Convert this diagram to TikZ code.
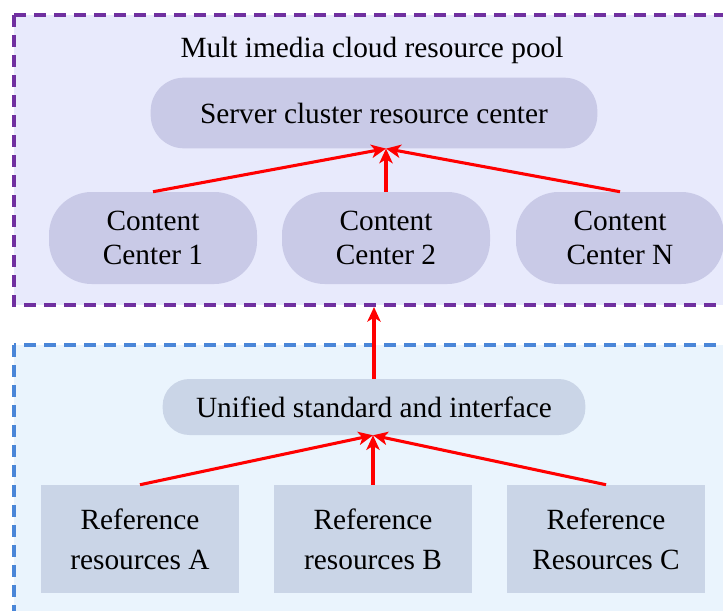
\documentclass[tikz,border=0pt]{standalone}
\usepackage{fontspec}
\setmainfont{Liberation Serif}
\usepackage{tikz}
\usetikzlibrary{calc,arrows.meta}

\definecolor{poolfill}{HTML}{E8EAFC}
\definecolor{poolline}{HTML}{7030A0}
\definecolor{reffill}{HTML}{EAF4FD}
\definecolor{refline}{HTML}{4A86D8}
\definecolor{pillfill}{HTML}{C9CAE7}
\definecolor{boxfill}{HTML}{CAD5E7}

\tikzset{
    pill/.style={fill=pillfill, align=center, inner sep=0pt},
    refbox/.style={fill=boxfill, align=center, inner sep=0pt,
        minimum width=149pt, minimum height=81pt,
        font=\fontsize{22}{30}\selectfont},
    link/.style={draw=red, line width=2.3pt, -{Stealth[length=11pt,width=10pt,inset=3pt]}},
    frame/.style={line width=2.3pt, dash pattern=on 9pt off 6pt}
}

\begin{document}
\begin{tikzpicture}[x=0.75pt,y=-0.75pt,font=\fontsize{22}{25}\selectfont]
    \useasboundingbox (0,0) rectangle (723,610);
    \clip (0,0) rectangle (723,610);
    % two pools
    \draw [frame, draw=poolline, fill=poolfill] (14,15) rectangle (760,305);
    \draw [frame, draw=refline, fill=reffill] (14,345) rectangle (760,650);
    \coordinate (poolbottom) at (374,307);

    \node (title) at (372,50) {Mult imedia cloud resource pool};
    \node [pill, rounded corners=25pt, minimum width=335pt, minimum height=53pt] (server) at (374,113)
        {Server cluster resource center};
    \node [pill, rounded corners=32pt, minimum width=156pt, minimum height=69pt] (cc1) at (153,238)
        {Content\\Center 1};
    \node [pill, rounded corners=32pt, minimum width=156pt, minimum height=69pt] (cc2) at (386,238)
        {Content\\Center 2};
    \node [pill, rounded corners=32pt, minimum width=156pt, minimum height=69pt] (ccn) at (620,238)
        {Content\\Center N};

    \node [pill, rounded corners=20pt, fill=boxfill, minimum width=317pt, minimum height=42pt] (unified) at (374,407)
        {Unified standard and interface};
    \node [refbox] (refa) at (140,539) {Reference\\resources A};
    \node [refbox] (refb) at (373,539) {Reference\\resources B};
    \node [refbox] (refc) at (606,539) {Reference\\Resources C};

    % arrows
    \draw [link] (cc1.north) -- (server.south -| cc2.north);
    \draw [link] (cc2.north) -- (server.south -| cc2.north);
    \draw [link] (ccn.north) -- (server.south -| cc2.north);
    \draw [link] (unified.north) -- (poolbottom);
    \draw [link] (refa.north) -- (unified.south -| refb.north);
    \draw [link] (refb.north) -- (unified.south -| refb.north);
    \draw [link] (refc.north) -- (unified.south -| refb.north);
\end{tikzpicture}
\end{document}
